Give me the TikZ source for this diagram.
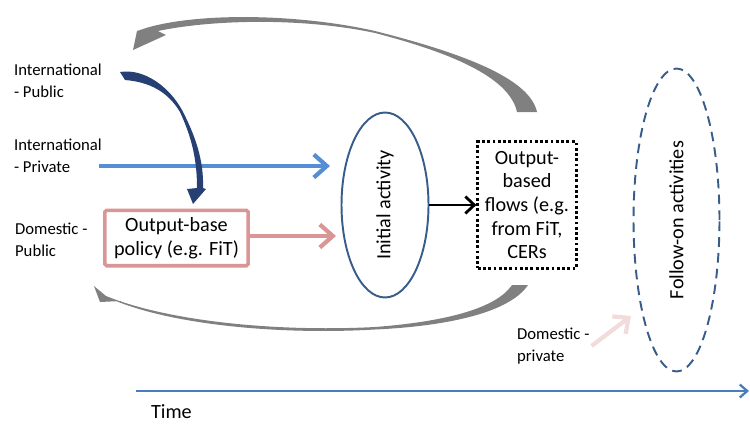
\documentclass[tikz,border=0pt]{standalone}
\usepackage{fontspec}
\setmainfont{Carlito}
\usetikzlibrary{arrows.meta, shapes.geometric, positioning}
\definecolor{ellblue}{HTML}{385D8A}
\definecolor{privblue}{HTML}{558ED5}
\definecolor{timeblue}{HTML}{4A7EBB}
\definecolor{policypink}{HTML}{D99694}
\definecolor{lightpink}{HTML}{F2DCDB}
\definecolor{loopgray}{HTML}{808080}
\definecolor{navy}{HTML}{264073}

\begin{document}
\begin{tikzpicture}[x = 0.02cm, y = -0.02cm,
    lbl/.style = {anchor = west, align = left, inner sep = 1pt, font = \fontsize{9.5}{12.5}\selectfont},
    boxtxt/.style = {align = center, font = \fontsize{11.5}{13.5}\selectfont},
    flowarrow/.style = {line width = 2.4pt, -{Straight Barb[length = 2.6mm, width = 4.6mm]}}]
  \useasboundingbox (0,0) rectangle (750,423);
  \clip (0,0) rectangle (750,423);

  % sources
  \node (intpub)  at (12,81)  [lbl] {International\\- Public};
  \node (intpriv) at (12,156) [lbl] {International\\- Private};
  \node (dompub)  at (13,240) [lbl] {Domestic -\\Public};
  \node (dompriv) at (515,346) [lbl] {Domestic -\\private};

  % boxes and activities
  \node (policy) at (176.5,238) [draw = policypink, line width = 2pt, rounded corners = 1pt,
      minimum width = 2.87cm, minimum height = 1.11cm, boxtxt] {Output-base\\policy (e.g. FiT)};
  \node (initial) at (385,205) [ellipse, draw = ellblue, line width = 1.1pt, inner sep = 0pt,
      minimum width = 1.74cm, minimum height = 3.7cm, boxtxt] {\rotatebox{90}{Initial activity}};
  \node (flows) at (527,205) [draw, line width = 1.6pt, dash pattern = on 1.6pt off 1.4pt,
      minimum width = 1.97cm, minimum height = 2.53cm, inner sep = 2pt, boxtxt]
      {Output-\\based\\flows (e.g.\\from FiT,\\CERs};
  \node (follow) at (676.5,220) [ellipse, draw = ellblue, line width = 1.1pt, dash pattern = on 5.5pt off 3.5pt,
      inner sep = 0pt, minimum width = 1.72cm, minimum height = 6.06cm, boxtxt] {\rotatebox{90}{Follow-on activities}};

  % time axis
  \coordinate (tstart) at (136,391);
  \coordinate (tend)   at (749,391);
  \node (time) at (149,418) [anchor = base west, inner sep = 1pt, boxtxt] {Time};

  % arrow ends
  \coordinate (privstart) at (99,166);
  \coordinate (privend)   at (330,166);
  \coordinate (policyend) at (336,236);
  \coordinate (dptip)     at (631,316);

  \draw [flowarrow, privblue] (privstart) -- (privend);
  \draw [flowarrow, policypink] (policy.east |- policyend) -- (policyend);
  \draw [line width = 1.6pt, -{Straight Barb[length = 1.8mm, width = 3.4mm]}] (initial.east) -- (flows.west);
  \draw [line width = 2.4pt, lightpink, -{Straight Barb[length = 2.4mm, width = 4.4mm]}] (dompriv.east) -- (dptip);
  \draw [line width = 1.3pt, timeblue, -{Straight Barb[length = 1.5mm, width = 2.6mm]}] (tstart) -- (tend);

  % curved feedback arrows
  \fill [navy] (120,72) .. controls (145,68) and (170,88) .. (182,110)
      .. controls (195,135) and (204,160) .. (203,188) -- (206,189) -- (193,204) -- (187,189) -- (197,188)
      .. controls (197,160) and (192,138) .. (180,112) .. controls (168,92) and (150,82) .. (125,80) -- cycle;
  \fill [loopgray] (517,112) .. controls (510,80) and (460,55) .. (375,33)
      .. controls (300,17) and (210,20) .. (158,31) -- (166,35) -- (133,50) -- (137,31) -- (146,28)
      .. controls (200,12) and (300,14) .. (375,31) .. controls (470,55) and (530,80) .. (537,112) -- cycle;
  \fill [loopgray] (512,285) .. controls (495,310) and (440,322) .. (375,327)
      .. controls (280,332) and (170,322) .. (106,296) -- (94,286) -- (100,302) -- (121,301) -- (116,301)
      .. controls (175,325) and (280,335) .. (375,329.5) .. controls (450,326) and (510,312) .. (528,285) -- cycle;
\end{tikzpicture}
\end{document}
